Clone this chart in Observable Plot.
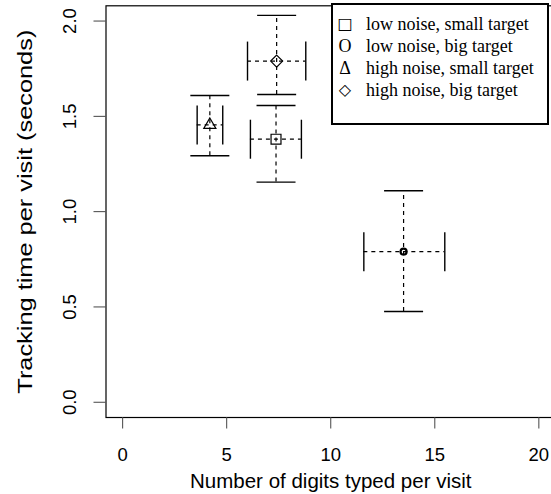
<!DOCTYPE html>
<html>
<head>
<meta charset="utf-8">
<script src="https://cdn.jsdelivr.net/npm/d3@7"></script>
<script src="https://cdn.jsdelivr.net/npm/@observablehq/plot@0.6"></script>
<style>
html, body { margin: 0; padding: 0; background: #fff; overflow: hidden; }
#wrap { position: relative; width: 551px; height: 494px; overflow: hidden; }
#wrap svg { max-width: none !important; display: block; }
#legend {
  position: absolute; left: 331px; top: 3px; width: 214px; height: 118px;
  border: 2.5px solid #000; background: #fff;
  font-family: "Liberation Serif", "Times New Roman", serif; font-size: 18px; color: #000;
  box-sizing: content-box;
}
#legend .row { position: absolute; left: 0; height: 22px; line-height: 22px; white-space: nowrap; }
#legend .sym { position: absolute; left: 3px; width: 18px; text-align: center; font-family: "DejaVu Sans", sans-serif; font-size: 16px; color: #000; }
#legend .sym.txt { font-family: "Liberation Serif", serif; font-size: 18px; }
#legend .lab { position: absolute; left: 33px; }
</style>
</head>
<body>
<div id="wrap"><div id="chart"></div><div id="legend"></div></div>
<script>
// ---- data ----
const conditions = ["low noise, small target", "low noise, big target", "high noise, small target", "high noise, big target"];
const legendSymbols = ["\u25A1", "O", "\u0394", "\u25C7"];
const digitsMean = [7.37, 13.5, 4.19, 7.4];
const digitsLow  = [6.14, 11.59, 3.58, 6.0];
const digitsHigh = [8.59, 15.48, 4.81, 8.8];
const timeMean = [1.38, 0.79, 1.455, 1.79];
const timeLow  = [1.155, 0.476, 1.293, 1.615];
const timeHigh = [1.557, 1.11, 1.609, 2.03];
const xTicks = [0, 5, 10, 15, 20];
const yTicks = [0, 0.5, 1, 1.5, 2];
const yTickLabels = ["0.0", "0.5", "1.0", "1.5", "2.0"];
const xLabel = "Number of digits typed per visit";
const yLabel = "Tracking time per visit (seconds)";

// ---- styles ----
const plotSymbols = ["square", "circle", "triangle", "diamond2"];
const symbolR = [5.6, 3, 4.5, 5.4];
const symbolW = [1.2, 2.2, 1.2, 1.2];
const legendSymIsText = [false, true, true, false];
const capHalf = 19.5;
const yTitleLength = 364;
const sansFont = "'Liberation Sans', Arial, Helvetica, sans-serif";

const data = conditions.map((c, i) => ({
  c, x: digitsMean[i], xlo: digitsLow[i], xhi: digitsHigh[i],
  y: timeMean[i], ylo: timeLow[i], yhi: timeHigh[i]
}));

const hcap = {draw(ctx) { ctx.moveTo(-capHalf, 0); ctx.lineTo(capHalf, 0); }};
const vcap = {draw(ctx) { ctx.moveTo(0, -capHalf); ctx.lineTo(0, capHalf); }};

const chart = Plot.plot({
  width: 557, height: 494,
  marginLeft: 105.5, marginRight: 2, marginTop: 5.3, marginBottom: 77,
  style: {fontFamily: sansFont, background: "#fff", color: "#000"},
  x: {domain: [-0.8, 20.8], axis: null},
  y: {domain: [-0.08, 2.08], axis: null},
  marks: [
    Plot.frame({stroke: "#000", strokeWidth: 1.2}),
    Plot.axisX({ticks: xTicks, tickSize: 11.5, tickPadding: 18.5, fontSize: 18.5, label: null, stroke: "#444", tickFormat: d => String(d)}),
    Plot.axisY({ticks: yTicks, tickSize: 12, label: null, stroke: "#444", tickFormat: () => ""}),
    Plot.text(yTicks, {y: d => d, text: (d, i) => yTickLabels[i], frameAnchor: "left", rotate: -90, dx: -30, textAnchor: "middle", lineAnchor: "bottom", fontSize: 18.5}),
    Plot.text([xLabel], {frameAnchor: "bottom", text: d => d, dy: 70, lineAnchor: "bottom", textAnchor: "middle", fontSize: 20.5}),
    Plot.text([yLabel], {frameAnchor: "left", text: d => d, rotate: -90, dx: -74, textAnchor: "middle", lineAnchor: "bottom", fontSize: 21}),
    // error bars (dashed)
    Plot.ruleY(data, {y: "y", x1: "xlo", x2: "xhi", stroke: "#000", strokeWidth: 1.2, strokeDasharray: "4,4"}),
    Plot.ruleX(data, {x: "x", y1: "ylo", y2: "yhi", stroke: "#000", strokeWidth: 1.2, strokeDasharray: "4,4"}),
    // caps
    Plot.dot(data, {x: "x", y: "yhi", symbol: hcap, fill: "none", stroke: "#000", strokeWidth: 1.4}),
    Plot.dot(data, {x: "x", y: "ylo", symbol: hcap, fill: "none", stroke: "#000", strokeWidth: 1.4}),
    Plot.dot(data, {x: "xlo", y: "y", symbol: vcap, fill: "none", stroke: "#000", strokeWidth: 1.4}),
    Plot.dot(data, {x: "xhi", y: "y", symbol: vcap, fill: "none", stroke: "#000", strokeWidth: 1.4}),
    // markers
    ...data.map((d, i) => Plot.dot([d], {x: "x", y: "y", symbol: plotSymbols[i], r: symbolR[i], fill: "none", stroke: "#000", strokeWidth: symbolW[i]}))
  ]
});
// stretch the y-axis title lengthwise, as in the reference
chart.querySelectorAll("text").forEach(t => {
  if (t.textContent === yLabel) {
    t.setAttribute("textLength", yTitleLength);
    t.setAttribute("lengthAdjust", "spacingAndGlyphs");
  }
});
document.getElementById("chart").appendChild(chart);

const legend = document.getElementById("legend");
conditions.forEach((c, i) => {
  const row = document.createElement("div");
  row.className = "row";
  row.style.top = (8 + i * 22) + "px";
  row.style.width = "100%";
  row.innerHTML = `<span class="sym${legendSymIsText[i] ? " txt" : ""}">${legendSymbols[i]}</span><span class="lab">${c}</span>`;
  legend.appendChild(row);
});
</script>
</body>
</html>
